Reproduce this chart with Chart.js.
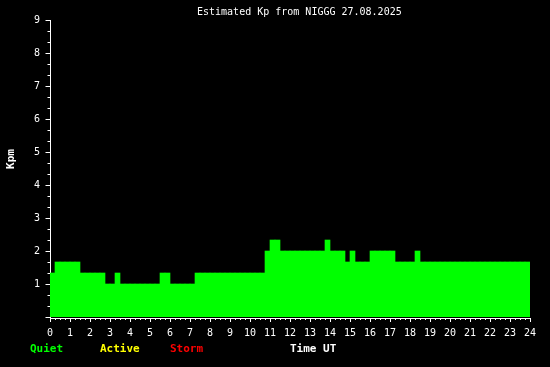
<!DOCTYPE html>
<html lang="en">
<head>
  <meta charset="UTF-8">
  <title>Estimated Kp</title>
  <script src="https://cdn.jsdelivr.net/npm/chart.js@4.4.0/dist/chart.umd.min.js"></script>
  <style>
    html, body { margin: 0; background: #000; }
  </style>
</head>
<body>
  <canvas id="chart" width="550" height="367"></canvas>
  <script>
    const chartTitle = 'Estimated Kp from NIGGG 27.08.2025';
    const hoursPerBin = 0.25;
    // Kp per 15 min interval, one row per hour (00 .. 23 UT)
    const kp = [
      1.333, 1.667, 1.667, 1.667,
      1.667, 1.667, 1.333, 1.333,
      1.333, 1.333, 1.333, 1.0,
      1.0, 1.333, 1.0, 1.0,
      1.0, 1.0, 1.0, 1.0,
      1.0, 1.0, 1.333, 1.333,
      1.0, 1.0, 1.0, 1.0,
      1.0, 1.333, 1.333, 1.333,
      1.333, 1.333, 1.333, 1.333,
      1.333, 1.333, 1.333, 1.333,
      1.333, 1.333, 1.333, 2.0,
      2.333, 2.333, 2.0, 2.0,
      2.0, 2.0, 2.0, 2.0,
      2.0, 2.0, 2.0, 2.333,
      2.0, 2.0, 2.0, 1.667,
      2.0, 1.667, 1.667, 1.667,
      2.0, 2.0, 2.0, 2.0,
      2.0, 1.667, 1.667, 1.667,
      1.667, 2.0, 1.667, 1.667,
      1.667, 1.667, 1.667, 1.667,
      1.667, 1.667, 1.667, 1.667,
      1.667, 1.667, 1.667, 1.667,
      1.667, 1.667, 1.667, 1.667,
      1.667, 1.667, 1.667, 1.667
    ];
    const levels = [
      { name: 'Quiet', color: '#00ff00', x: 30 },
      { name: 'Active', color: '#ffff00', x: 100 },
      { name: 'Storm', color: '#ff0000', x: 170 }
    ];

    const mono = '"DejaVu Sans Mono", "Liberation Mono", monospace';

    function kpColor(v) {
      if (v >= 5) return levels[2].color;
      if (v >= 4) return levels[1].color;
      return levels[0].color;
    }

    const blackBg = {
      id: 'blackBg',
      beforeDraw(chart) {
        const ctx = chart.ctx;
        ctx.save();
        ctx.fillStyle = '#000';
        ctx.fillRect(0, 0, chart.width, chart.height);
        ctx.restore();
      }
    };

    // axis lines and tick marks (major + minor)
    const axisMarks = {
      id: 'axisMarks',
      beforeDatasetsDraw(chart) {
        const { ctx, scales: { x, y } } = chart;
        ctx.save();
        ctx.strokeStyle = '#fff';
        ctx.lineWidth = 1;
        ctx.beginPath();
        const ax = Math.round(x.getPixelForValue(0)) + 0.5;
        const ay = Math.round(y.getPixelForValue(0)) + 1.5;
        // y axis
        ctx.moveTo(ax, y.getPixelForValue(9));
        ctx.lineTo(ax, ay);
        for (let i = 0; i <= 27; i++) {
          const py = Math.round(y.getPixelForValue(i / 3)) + 0.5;
          const len = i % 3 === 0 ? 5 : 3;
          ctx.moveTo(ax - len, py);
          ctx.lineTo(ax, py);
        }
        // x axis
        ctx.moveTo(ax - 0.5, ay);
        ctx.lineTo(Math.round(x.getPixelForValue(24)) + 1, ay);
        for (let i = 0; i <= 96; i++) {
          const px = Math.round(x.getPixelForValue(i * hoursPerBin)) + 0.5;
          const len = i % 4 === 0 ? 4 : 2;
          ctx.moveTo(px, ay);
          ctx.lineTo(px, ay - 0.5 + len);
        }
        ctx.stroke();
        ctx.restore();
      }
    };

    // title, legend row and axis titles
    const labels = {
      id: 'labels',
      afterDraw(chart) {
        const ctx = chart.ctx;
        ctx.save();
        ctx.fillStyle = '#fff';
        ctx.textBaseline = 'middle';
        ctx.textAlign = 'left';
        ctx.font = '10px ' + mono;
        ctx.fillText(chartTitle, 197, 12);

        ctx.font = 'bold 11px ' + mono;
        levels.forEach(l => {
          ctx.fillStyle = l.color;
          ctx.fillText(l.name, l.x, 349);
        });
        ctx.fillStyle = '#fff';
        ctx.fillText('Time UT', 290, 349);
        ctx.translate(11, 159);
        ctx.rotate(-Math.PI / 2);
        ctx.textAlign = 'center';
        ctx.fillText('Kpm', 0, 0);
        ctx.restore();
      }
    };

    const ctx = document.getElementById('chart').getContext('2d');
    const myChart = new Chart(ctx, {
      type: 'bar',
      data: {
        datasets: [{
          label: 'Kp',
          data: kp.map((v, i) => ({ x: (i + 0.5) * hoursPerBin, y: v })),
          backgroundColor: kp.map(kpColor),
          borderWidth: 0,
          barPercentage: 1,
          categoryPercentage: 1
        }]
      },
      options: {
        responsive: false,
        animation: false,
        layout: { padding: { top: 20, right: 20, bottom: 0, left: 0 } },
        plugins: {
          legend: { display: false },
          tooltip: { enabled: false },
          title: { display: false }
        },
        scales: {
          x: {
            type: 'linear',
            min: 0,
            max: 24,
            offset: false,
            grid: { display: false, drawTicks: false, offset: false },
            border: { display: false },
            ticks: {
              stepSize: 1,
              autoSkip: false,
              maxRotation: 0,
              padding: 10,
              color: '#fff',
              font: { family: mono, size: 10 }
            },
            afterFit(scale) { scale.height = 50; }
          },
          y: {
            min: 0,
            max: 9,
            grid: { display: false, drawTicks: false },
            border: { display: false },
            ticks: {
              stepSize: 1,
              padding: 10,
              color: '#fff',
              font: { family: mono, size: 10 },
              callback: v => (v === 0 ? '' : v)
            },
            afterFit(scale) { scale.width = 50; }
          }
        }
      },
      plugins: [blackBg, axisMarks, labels]
    });
  </script>
</body>
</html>
